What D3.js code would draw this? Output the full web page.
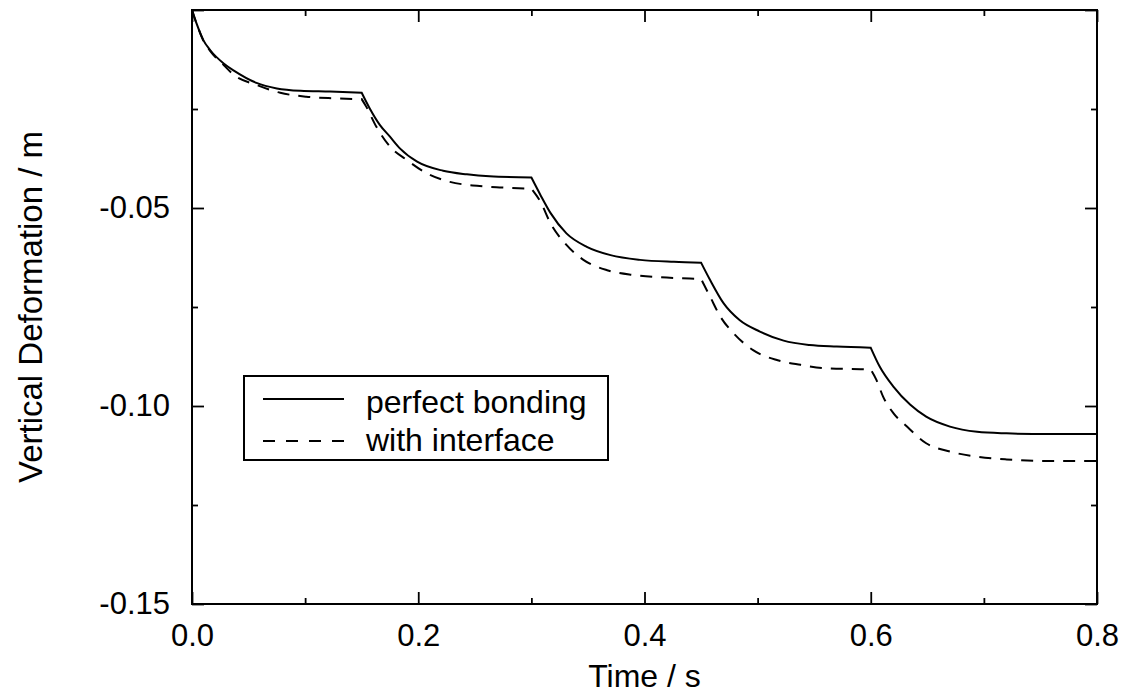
<!DOCTYPE html>
<html>
<head>
<meta charset="utf-8">
<script src="https://cdn.jsdelivr.net/npm/d3@7"></script>
<style>
  body { margin: 0; background: #fff; }
  svg { font-family: "Liberation Sans", Arial, Helvetica, sans-serif; }
  .axis path.domain { display: none; }
  .axis line { stroke: #000; stroke-width: 1.8; }
  .axis text { fill: #000; }
</style>
</head>
<body>
<div id="chart"></div>
<script>
// Time (s) and vertical deformation (m)
const bondTime = [0, 0.004, 0.010, 0.016, 0.028, 0.037, 0.057, 0.075, 0.096, 0.122, 0.150,
  0.157, 0.166, 0.175, 0.184, 0.199, 0.222, 0.243, 0.263, 0.300,
  0.308, 0.317, 0.331, 0.349, 0.370, 0.396, 0.426, 0.450,
  0.458, 0.470, 0.484, 0.502, 0.523, 0.546, 0.570, 0.600,
  0.608, 0.620, 0.635, 0.649, 0.670, 0.694, 0.720, 0.758, 0.800];
const bondDefl = [0, -0.0034, -0.0076, -0.0101, -0.0135, -0.0153, -0.0184, -0.0198, -0.0204, -0.0206, -0.0209,
  -0.0248, -0.0290, -0.0320, -0.0350, -0.0383, -0.0406, -0.0415, -0.0420, -0.0423,
  -0.0467, -0.0513, -0.0564, -0.0598, -0.0619, -0.0631, -0.0636, -0.0638,
  -0.0682, -0.0741, -0.0783, -0.0812, -0.0835, -0.0846, -0.0850, -0.0853,
  -0.0901, -0.0951, -0.0997, -0.1027, -0.1052, -0.1065, -0.1069, -0.1071, -0.1071];

const ifaceTime = [0, 0.004, 0.010, 0.016, 0.028, 0.037, 0.057, 0.078, 0.101, 0.125, 0.150,
  0.154, 0.163, 0.175, 0.190, 0.208, 0.228, 0.252, 0.272, 0.300,
  0.308, 0.317, 0.331, 0.346, 0.367, 0.390, 0.414, 0.440, 0.450,
  0.458, 0.467, 0.479, 0.496, 0.517, 0.538, 0.561, 0.591, 0.600,
  0.605, 0.611, 0.620, 0.632, 0.649, 0.670, 0.694, 0.720, 0.758, 0.800];
const ifaceDefl = [0, -0.0034, -0.0077, -0.0103, -0.0139, -0.0164, -0.0189, -0.0209, -0.0219, -0.0223, -0.0225,
  -0.0244, -0.0295, -0.0345, -0.0379, -0.0413, -0.0434, -0.0444, -0.0448, -0.0451,
  -0.0484, -0.0539, -0.0593, -0.0631, -0.0657, -0.0669, -0.0675, -0.0678, -0.0679,
  -0.0724, -0.0774, -0.0817, -0.0859, -0.0884, -0.0896, -0.0905, -0.0907, -0.0908,
  -0.0934, -0.0977, -0.1018, -0.1052, -0.1094, -0.1115, -0.1128, -0.1135, -0.1139, -0.1139];

// load steps: the curves have a sharp corner at each of these times
const stepTimes = [0.15, 0.30, 0.45, 0.60];

const seriesNames = ["perfect bonding", "with interface"];
const xMajor = [0, 0.2, 0.4, 0.6, 0.8];
const xMinor = [0.1, 0.3, 0.5, 0.7];
const yMajor = [0, -0.05, -0.10, -0.15];
const yMinor = [-0.025, -0.075, -0.125];

const W = 1128, H = 698;
const margin = { top: 10, right: 31, bottom: 94, left: 192 },
  width = W - margin.left - margin.right,
  height = H - margin.top - margin.bottom;

const svg = d3.select("#chart").append("svg")
  .attr("width", W).attr("height", H);
const g = svg.append("g")
  .attr("transform", `translate(${margin.left},${margin.top})`);

const x = d3.scaleLinear().domain([0, 0.8]).range([0, width]);
const y = d3.scaleLinear().domain([-0.15, 0]).range([height, 0]);

const fmtY = (d) => (d === 0 ? "" : d3.format(".2f")(d).replace("−", "-"));
const fmtX = d3.format(".1f");

// bottom + top axes (inward ticks)
g.append("g").attr("class", "axis").attr("transform", `translate(0,${height})`)
  .style("font-size", "31px")
  .call(d3.axisBottom(x).tickValues(xMajor).tickFormat(fmtX).tickSizeInner(-12).tickSizeOuter(0).tickPadding(20));
g.append("g").attr("class", "axis").attr("transform", `translate(0,${height})`)
  .call(d3.axisBottom(x).tickValues(xMinor).tickFormat("").tickSizeInner(-6).tickSizeOuter(0));
g.append("g").attr("class", "axis")
  .call(d3.axisTop(x).tickValues(xMajor).tickFormat("").tickSizeInner(-12).tickSizeOuter(0));
g.append("g").attr("class", "axis")
  .call(d3.axisTop(x).tickValues(xMinor).tickFormat("").tickSizeInner(-6).tickSizeOuter(0));

// left + right axes
g.append("g").attr("class", "axis")
  .style("font-size", "31px")
  .call(d3.axisLeft(y).tickValues(yMajor).tickFormat(fmtY).tickSizeInner(-12).tickSizeOuter(0).tickPadding(22));
g.append("g").attr("class", "axis")
  .call(d3.axisLeft(y).tickValues(yMinor).tickFormat("").tickSizeInner(-6).tickSizeOuter(0));
g.append("g").attr("class", "axis").attr("transform", `translate(${width},0)`)
  .call(d3.axisRight(y).tickValues(yMajor).tickFormat("").tickSizeInner(-12).tickSizeOuter(0));
g.append("g").attr("class", "axis").attr("transform", `translate(${width},0)`)
  .call(d3.axisRight(y).tickValues(yMinor).tickFormat("").tickSizeInner(-6).tickSizeOuter(0));

// frame
g.append("rect")
  .attr("width", width).attr("height", height)
  .attr("fill", "none").attr("stroke", "#000").attr("stroke-width", 2);

// curves: smooth within each load step, sharp corner between steps
const line = d3.line()
  .x((d) => x(d[0]))
  .y((d) => y(d[1]))
  .curve(d3.curveMonotoneX);

const stepPath = (times, defl) => {
  const pts = times.map((t, i) => [t, defl[i]]);
  const bounds = [0, ...stepTimes, Infinity];
  const segs = d3.range(bounds.length - 1)
    .map((k) => pts.filter((p) => p[0] >= bounds[k] - 1e-9 && p[0] <= bounds[k + 1] + 1e-9))
    .filter((s) => s.length > 1);
  return segs.map((s, i) => {
    const d = line(s);
    return i ? "L" + d.slice(1) : d;
  }).join("");
};

g.append("path")
  .attr("d", stepPath(ifaceTime, ifaceDefl))
  .attr("fill", "none").attr("stroke", "#000")
  .attr("stroke-width", 2).attr("stroke-dasharray", "12,9");
g.append("path")
  .attr("d", stepPath(bondTime, bondDefl))
  .attr("fill", "none").attr("stroke", "#000")
  .attr("stroke-width", 2);

// axis titles
svg.append("text")
  .attr("x", margin.left + width / 2).attr("y", 687)
  .attr("text-anchor", "middle").style("font-size", "32px")
  .text("Time / s");
svg.append("text")
  .attr("transform", `translate(42,${margin.top + height / 2}) rotate(-90)`)
  .attr("text-anchor", "middle").style("font-size", "33px")
  .text("Vertical Deformation / m");

// legend
const legend = svg.append("g").attr("transform", "translate(244,376)");
legend.append("rect")
  .attr("width", 364).attr("height", 84)
  .attr("fill", "#fff").attr("stroke", "#000").attr("stroke-width", 2);
const rows = legend.selectAll("g.row").data(seriesNames).enter()
  .append("g").attr("class", "row")
  .attr("transform", (d, i) => `translate(0,${i === 0 ? 23 : 65})`);
rows.append("line")
  .attr("x1", 19).attr("x2", 100)
  .attr("stroke", "#000").attr("stroke-width", 2)
  .attr("stroke-dasharray", (d, i) => (i === 0 ? null : "12,11"));
rows.append("text")
  .attr("x", 122).attr("y", (d, i) => (i === 0 ? 14 : 10))
  .style("font-size", "32px")
  .text((d) => d);
</script>
</body>
</html>
